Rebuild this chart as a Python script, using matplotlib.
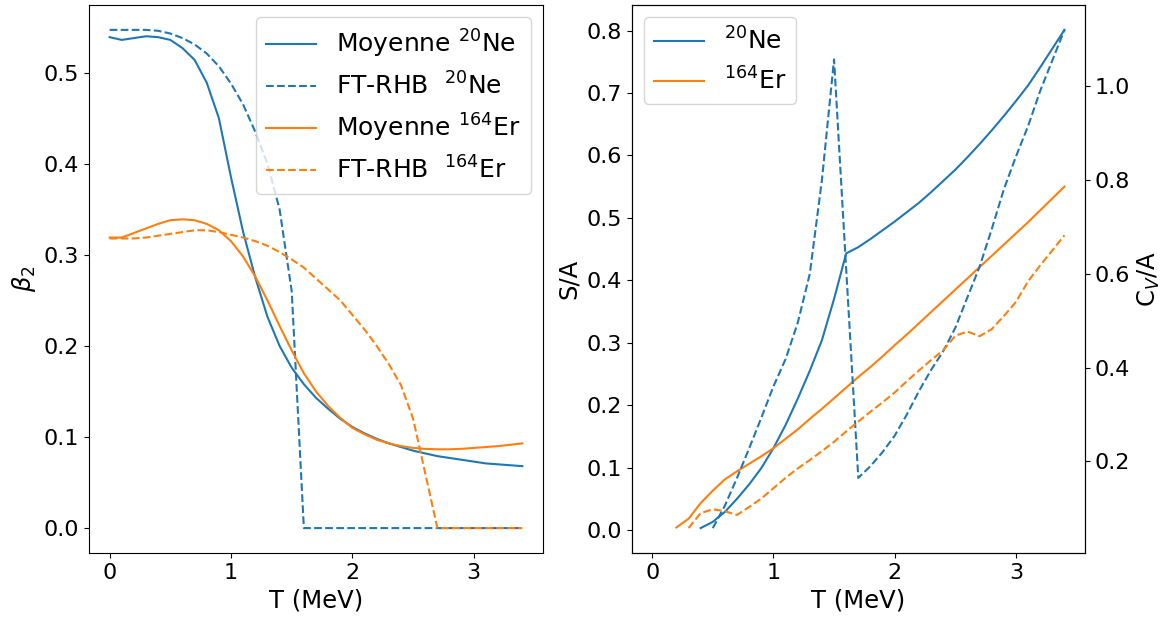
import matplotlib
matplotlib.use("Agg")
import matplotlib.pyplot as plt
import numpy as np

# Températures (MeV)
T_beta = np.round(np.arange(0, 3.41, 0.1), 1)

# beta_2 -- modèle moyen et FT-RHB
beta_moy_ne = [0.539, 0.536, 0.538, 0.540, 0.539, 0.536, 0.527, 0.514, 0.489, 0.450,
               0.385, 0.325, 0.275, 0.232, 0.200, 0.176, 0.158, 0.143, 0.131, 0.120,
               0.111, 0.104, 0.098, 0.093, 0.089, 0.085, 0.082, 0.079, 0.077, 0.075,
               0.073, 0.071, 0.070, 0.069, 0.068]
beta_rhb_ne = [0.547, 0.547, 0.547, 0.547, 0.546, 0.543, 0.538, 0.531, 0.521, 0.507,
               0.488, 0.465, 0.435, 0.400, 0.350, 0.260, 0.0, 0.0, 0.0, 0.0,
               0.0, 0.0, 0.0, 0.0, 0.0, 0.0, 0.0, 0.0, 0.0, 0.0,
               0.0, 0.0, 0.0, 0.0, 0.0]
beta_moy_er = [0.319, 0.319, 0.324, 0.329, 0.334, 0.338, 0.339, 0.338, 0.334, 0.327,
               0.315, 0.298, 0.276, 0.250, 0.222, 0.195, 0.170, 0.150, 0.134, 0.121,
               0.110, 0.103, 0.097, 0.093, 0.090, 0.088, 0.087, 0.0865, 0.0865, 0.087,
               0.088, 0.089, 0.090, 0.0915, 0.093]
beta_rhb_er = [0.318, 0.318, 0.318, 0.319, 0.321, 0.323, 0.325, 0.327, 0.327, 0.325,
               0.322, 0.319, 0.315, 0.310, 0.303, 0.295, 0.286, 0.274, 0.262, 0.250,
               0.234, 0.218, 0.200, 0.180, 0.157, 0.120, 0.060, 0.0, 0.0, 0.0,
               0.0, 0.0, 0.0, 0.0, 0.0]

# Entropie par nucléon S/A
T_s_ne = np.round(np.arange(0.4, 3.41, 0.1), 1)
s_ne = [0.003, 0.013, 0.029, 0.050, 0.073, 0.099, 0.131, 0.168, 0.210, 0.255,
        0.304, 0.370, 0.443, 0.453, 0.466, 0.480, 0.494, 0.509, 0.524, 0.541,
        0.559, 0.577, 0.597, 0.618, 0.640, 0.663, 0.687, 0.712, 0.741, 0.771,
        0.801]
T_s_er = np.round(np.arange(0.2, 3.41, 0.1), 1)
s_er = [0.004, 0.018, 0.043, 0.063, 0.081, 0.094, 0.106, 0.118, 0.131, 0.146,
        0.161, 0.178, 0.194, 0.211, 0.228, 0.245, 0.261, 0.278, 0.296, 0.313,
        0.331, 0.349, 0.367, 0.385, 0.403, 0.421, 0.439, 0.457, 0.475, 0.493,
        0.512, 0.531, 0.550]

# Capacité calorifique par nucléon Cv/A
T_cv_ne = np.round(np.arange(0.5, 3.41, 0.1), 1)
cv_ne = [0.058, 0.106, 0.165, 0.228, 0.293, 0.360, 0.418, 0.495, 0.600, 0.800,
         1.057, 0.610, 0.165, 0.190, 0.220, 0.255, 0.300, 0.350, 0.395, 0.435,
         0.485, 0.550, 0.615, 0.695, 0.780, 0.850, 0.915, 0.990, 1.055, 1.120]
T_cv_er = np.round(np.arange(0.3, 3.41, 0.1), 1)
cv_er = [0.058, 0.090, 0.098, 0.094, 0.086, 0.103, 0.121, 0.143, 0.165, 0.185,
         0.203, 0.222, 0.242, 0.264, 0.285, 0.306, 0.326, 0.347, 0.371, 0.394,
         0.416, 0.437, 0.468, 0.477, 0.467, 0.482, 0.510, 0.540, 0.584, 0.618,
         0.650, 0.682]

plt.rcParams.update({"font.size": 16})

fig = plt.figure(figsize=(11.68, 6.21), dpi=100)
ax1 = fig.add_axes([0.0762, 0.1095, 0.3887, 0.8825])
ax2 = fig.add_axes([0.5407, 0.1095, 0.3883, 0.8825])

# 1. beta_2
ax1.plot(T_beta, beta_moy_ne, color="C0", label=r"Moyenne $^{20}$Ne")
ax1.plot(T_beta, beta_rhb_ne, "--", color="C0", label=r"FT-RHB  $^{20}$Ne")
ax1.plot(T_beta, beta_moy_er, color="C1", label=r"Moyenne $^{164}$Er")
ax1.plot(T_beta, beta_rhb_er, "--", color="C1", label=r"FT-RHB  $^{164}$Er")
ax1.set_xlabel("T (MeV)", fontsize=17.5)
ax1.set_ylabel(r"$\beta_2$", fontsize=17.5)
ax1.legend(loc="upper right", fontsize=18)

# 2. S/A (trait plein) et Cv/A (tirets, axe de droite)
ax2.plot(T_s_ne, s_ne, color="C0", label=r"$^{20}$Ne")
ax2.plot(T_s_er, s_er, color="C1", label=r"$^{164}$Er")
ax2.set_xlim(-0.17, 3.57)
ax2.set_xlabel("T (MeV)", fontsize=17.5)
ax2.set_ylabel("S/A", fontsize=17.5)
ax2.legend(loc="upper left", fontsize=18)

ax3 = ax2.twinx()
ax3.plot(T_cv_ne, cv_ne, "--", color="C0")
ax3.plot(T_cv_er, cv_er, "--", color="C1")
ax3.set_ylabel(r"C$_V$/A", fontsize=17.5)

fig.savefig("out.png", dpi=100)
